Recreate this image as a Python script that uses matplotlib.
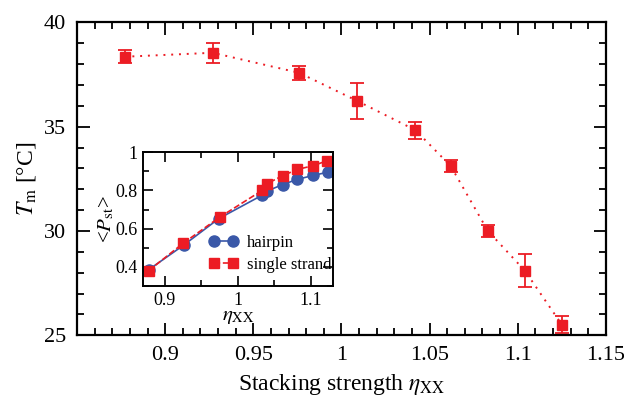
import matplotlib
matplotlib.use("Agg")
import matplotlib.pyplot as plt
from matplotlib.ticker import MultipleLocator

plt.rcParams['font.family'] = ['Liberation Serif', 'DejaVu Serif']
plt.rcParams['mathtext.fontset'] = 'stix'

# Main data: melting temperature vs stacking strength
eta = [0.877, 0.927, 0.976, 1.009, 1.042, 1.062, 1.083, 1.104, 1.125]
tm = [38.35, 38.54, 37.58, 36.23, 34.83, 33.11, 30.01, 28.10, 25.51]
tm_err = [0.30, 0.48, 0.34, 0.86, 0.40, 0.30, 0.30, 0.80, 0.41]

# Inset data
eta_in_sq = [0.878, 0.925, 0.975, 1.033, 1.040, 1.061, 1.081, 1.103, 1.122]
p_single = [0.38, 0.523, 0.66, 0.80, 0.836, 0.877, 0.91, 0.93, 0.956]
eta_in_ci = [0.878, 0.926, 0.974, 1.033, 1.040, 1.061, 1.081, 1.103, 1.123]
p_hairpin = [0.385, 0.514, 0.653, 0.775, 0.797, 0.831, 0.858, 0.879, 0.896]

red = '#ec1c24'
blue = '#3a58a8'

fig = plt.figure(figsize=(6.24, 3.99), dpi=100)
ax = fig.add_axes([0.1234, 0.1596, 0.8476, 0.7845])

ax.errorbar(eta, tm, yerr=tm_err, color=red, ls=(0, (1, 3)), lw=1.4, marker='s',
            ms=7, capsize=5, elinewidth=1.3, capthick=1.3)
ax.set_xlim(0.85, 1.15)
ax.set_ylim(25, 40)
ax.xaxis.set_major_locator(MultipleLocator(0.05))
ax.xaxis.set_minor_locator(MultipleLocator(0.01))
ax.yaxis.set_major_locator(MultipleLocator(5))
ax.yaxis.set_minor_locator(MultipleLocator(1))
ax.set_xticks([0.9, 0.95, 1.0, 1.05, 1.1, 1.15])
ax.set_xticklabels(['0.9', '0.95', '1', '1.05', '1.1', '1.15'])
ax.tick_params(which='both', direction='in', top=True, right=True, labelsize=16, width=1.3)
ax.tick_params(which='major', length=9, pad=8)
ax.tick_params(which='minor', length=5)
for s in ax.spines.values():
    s.set_linewidth(1.6)
ax.set_xlabel(r'Stacking strength $\eta_{\mathrm{XX}}$', fontsize=17, labelpad=5)
ax.set_ylabel(r'$T_{\mathrm{m}}$ [°C]', fontsize=17, labelpad=4)

# Inset
ins = fig.add_axes([0.2287, 0.2832, 0.305, 0.3351])
ins.plot(eta_in_ci, p_hairpin, color=blue, ls='-', lw=1.2, marker='o', ms=8, label='hairpin')
ins.plot(eta_in_sq, p_single, color=red, ls='--', lw=1.2, marker='s', ms=7, label='single strand')
ins.set_xlim(0.87, 1.13)
ins.set_ylim(0.3, 1.0)
ins.xaxis.set_major_locator(MultipleLocator(0.1))
ins.xaxis.set_minor_locator(MultipleLocator(0.05))
ins.yaxis.set_major_locator(MultipleLocator(0.2))
ins.yaxis.set_minor_locator(MultipleLocator(0.1))
ins.set_xticks([0.9, 1.0, 1.1])
ins.set_xticklabels(['0.9', '1', '1.1'])
ins.set_yticks([0.4, 0.6, 0.8, 1.0])
ins.set_yticklabels(['0.4', '0.6', '0.8', '1'])
ins.tick_params(which='both', direction='in', top=True, right=True, labelsize=13, width=1.2)
ins.tick_params(which='major', length=7, pad=4)
ins.tick_params(which='minor', length=4)
for s in ins.spines.values():
    s.set_linewidth(1.4)
ins.set_xlabel(r'$\eta_{\mathrm{XX}}$', fontsize=15, labelpad=-1)
ins.set_ylabel(r'<$P_{\mathrm{st}}$>', fontsize=15, labelpad=-1)
ins.legend(loc='lower right', bbox_to_anchor=(0.99, 0.1), fontsize=12, frameon=False,
           numpoints=2, handlelength=1.75, handletextpad=0.5, borderaxespad=0,
           borderpad=0, labelspacing=0.35)

fig.savefig('out.png', dpi=100)
